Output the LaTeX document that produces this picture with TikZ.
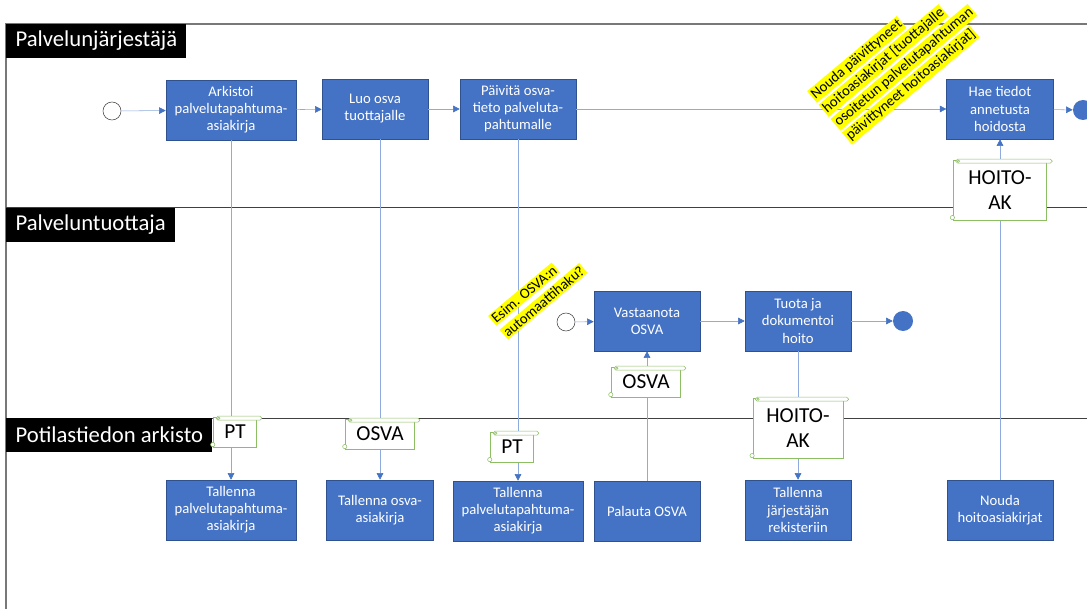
\documentclass[tikz,border=0pt]{standalone}
\usepackage{fontspec}
\setmainfont{Carlito}
\usetikzlibrary{arrows.meta}
\definecolor{boxblue}{RGB}{68,114,196}
\definecolor{boxedge}{RGB}{47,82,143}
\definecolor{lineblue}{RGB}{143,170,220}
\definecolor{docgreen}{RGB}{140,190,100}
\definecolor{notey}{RGB}{255,255,0}
\definecolor{framegrey}{RGB}{120,120,120}
\newcommand{\hl}[1]{\colorbox{notey}{#1}}
\setlength{\fboxsep}{1pt}

\begin{document}
\begin{tikzpicture}[x=0.75pt, y=-0.75pt,
   task/.style={draw=boxedge, fill=boxblue, text=white, align=center, minimum height=45pt, inner sep=2pt, font=\fontsize{11}{12.8}\selectfont},
   startev/.style={circle, draw=black!75, fill=white, minimum size=13.5pt, inner sep=0pt},
   endev/.style={circle, fill=boxblue, minimum size=15pt, inner sep=0pt},
   lane/.style={anchor=north west, fill=black, text=white, minimum height=25pt, inner xsep=7pt, font=\fontsize{17}{19}\selectfont},
   doc/.style={draw=docgreen, fill=white, align=center, inner xsep=8pt, inner ysep=3pt, minimum height=22.5pt, font=\fontsize{16}{19}\selectfont},
   note/.style={rotate=40, align=left, inner sep=0pt, font=\fontsize{11}{13.6}\selectfont},
   flow/.style={draw=lineblue, -{Triangle[length=5pt,width=5pt,color=boxblue]}},
   link/.style={draw=lineblue}]
\useasboundingbox (0,0) rectangle (1087,609);

% lanes
\draw[framegrey, line width=1.5pt] (1087,24) -- (6,24) -- (6,609);
\draw[black!75] (6,207) -- (1087,207);
\draw[black!75] (6,418) -- (1087,418);
\node[lane] (l1) at (6,24) {Palvelunjärjestäjä};
\node[lane] (l2) at (6,208) {Palveluntuottaja};
\node[lane] (l3) at (6,418) {Potilastiedon arkisto};

% palvelunjarjestaja
\node[startev] (s1) at (112,111) {};
\node[task, minimum width=97.5pt] (a1) at (231,110) {Arkistoi\\palvelutapahtuma-\\asiakirja};
\node[task, minimum width=79.5pt] (a2) at (375,109) {Luo osva\\tuottajalle};
\node[task, minimum width=87pt] (a3) at (518,109) {Päivitä osva-\\tieto palveluta-\\pahtumalle};
\node[task, minimum width=80pt] (a4) at (1000,109) {Hae tiedot\\annetusta\\hoidosta};
\node[endev] (e1) at (1083,110) {};

% palveluntuottaja
\node[startev] (s2) at (566,322) {};
\node[task, minimum width=79.5pt] (b1) at (647,321) {Vastaanota\\OSVA};
\node[task, minimum width=79.5pt] (b2) at (798,321) {Tuota ja\\dokumentoi\\hoito};
\node[endev] (e2) at (903,321) {};

% arkisto
\node[task, minimum width=97.5pt] (t1) at (231,510) {Tallenna\\palvelutapahtuma-\\asiakirja};
\node[task, minimum width=80pt] (t2) at (380,510) {Tallenna osva-\\asiakirja};
\node[task, minimum width=97.5pt] (t3) at (518,511) {Tallenna\\palvelutapahtuma-\\asiakirja};
\node[task, minimum width=79.5pt] (t4) at (647,511) {Palauta OSVA};
\node[task, minimum width=79.5pt] (t5) at (798,510) {Tallenna\\järjestäjän\\rekisteriin};
\node[task, minimum width=79.5pt] (t6) at (1000,510) {Nouda\\hoitoasiakirjat};

% flows
\draw[flow] (s1) -- (a1);
\draw[flow] (a1) -- (a2);
\draw[flow] (a2) -- (a3);
\draw[flow] (a3) -- (a4);
\draw[flow] (a4) -- (e1);
\draw[flow] (s2) -- (b1);
\draw[flow] (b1) -- (b2);
\draw[flow] (b2) -- (e2);
\draw[flow] (a1) -- (t1);
\draw[flow] (t2 |- a2.south) -- (t2.north);
\draw[flow] (a3) -- (t3);
\draw[flow] (t4) -- (b1);
\draw[flow] (b2) -- (t5);
\draw[flow] (t6) -- (a4);

% documents
\node[doc] (d1) at (235,432) {PT};
\node[doc] (d2) at (380,434) {OSVA};
\node[doc] (d3) at (512,447) {PT};
\node[doc] (d4) at (646,382) {OSVA};
\node[doc, minimum width=67.5pt, minimum height=45pt] (d5) at (798,428) {HOITO-\\AK};
\node[doc, minimum width=70pt, minimum height=45pt] (d6) at (1000,190) {HOITO-\\AK};
\foreach \n in {d1,d2,d3,d4,d5,d6} {
  \draw[docgreen, fill=white, rounded corners=1.4pt] ([xshift=2pt,yshift=-2.6pt]\n.north west) rectangle ([xshift=4pt,yshift=0.4pt]\n.north east);
  \draw[docgreen] ([xshift=4pt,yshift=-1.1pt]\n.north west) circle (0.9pt);
  \draw[docgreen, fill=white] ([xshift=-0.5pt,yshift=2pt]\n.south west) circle (1.6pt);
}

% notes
\node[note, anchor=south west] (n1) at (852,145) {\hl{Nouda päivittyneet}\\\hl{hoitoasiakirjat [tuottajalle}\\\hl{osoitetun palvelutapahtuman}\\\hl{päivittyneet hoitoasiakirjat]}};
\node[note, anchor=south west] (n2) at (508,340) {\hl{Esim. OSVA:n}\\\hl{automaattihaku?}};
\end{tikzpicture}
\end{document}
